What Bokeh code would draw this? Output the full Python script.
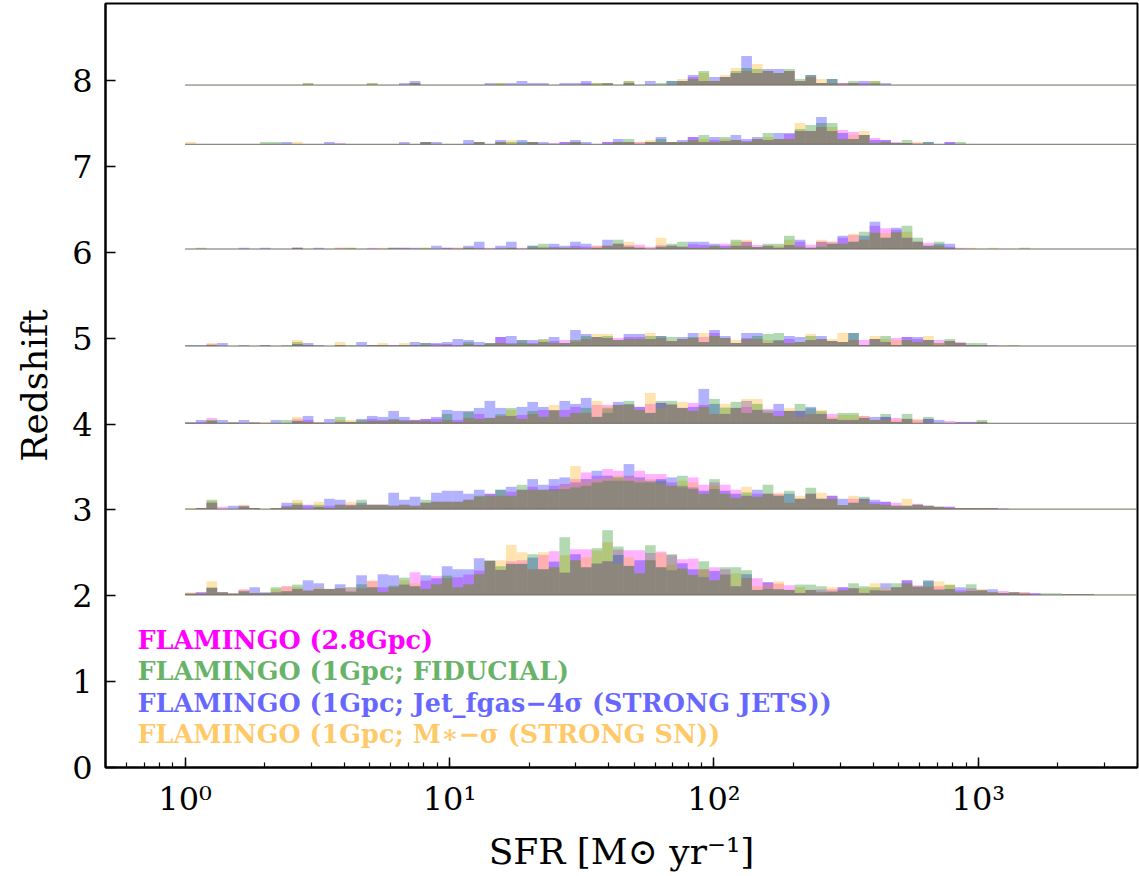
import numpy as np
from bokeh.plotting import figure
from bokeh.models import ColumnDataSource, Label, FixedTicker, CustomJSTickFormatter, Range1d
from bokeh.embed import file_html
from bokeh.resources import INLINE

# ---------------- data ----------------
N_BINS = 89
LOG_MIN, LOG_MAX = 0.0, 3.6          # histogram bins: 1 .. ~4000 Msun/yr, log-spaced
redshifts = [2.01, 3.01, 4.01, 4.91, 6.04, 7.26, 7.95]
HEIGHT_UNIT = 1.0 / 257.25           # histogram value -> redshift units

series_labels = ["FLAMINGO (2.8Gpc)",
                 "FLAMINGO (1Gpc; FIDUCIAL)",
                 "FLAMINGO (1Gpc; Jet_fgas\u22124\u03c3 (STRONG JETS))",
                 "FLAMINGO (1Gpc; M\u2217\u2212\u03c3 (STRONG SN))"]
series_colors = ["#ff00ff", "#008000", "#0000ff", "#ffa500"]
draw_order = [0, 2, 3, 1]            # magenta, blue, orange, then green on top

# z ~ 2
mag_z2 = [4,8,21,8,4,16,6,6,8,26, 18,13,18,18,20,10,20,41,23,23, 31,68,43,57,50,53,61,73,102,75,
          101,104,77,120,131,67,137,137,94,101, 136,134,134,126,130,119,107,109,77,83,
          77,26,51,50,38,34,29,6,15,16, 17,23,20,6,14,13,23,44,29,25, 26,18,14,20,14,8,12,8,8,5, 0,0,2,2,2]
grn_z2 = [4,4,23,8,4,11,6,6,23,11, 31,13,18,18,20,10,32,23,9,28, 52,26,18,32,58,23,32,62,104,86,
          93,93,122,77,83,173,104,83,140,194, 145,87,65,149,83,122,79,60,101,44,
          83,83,74,15,18,17,15,31,31,26, 10,14,35,26,23,13,35,35,25,41, 16,30,8,32,14,8,6,8,4,0, 5,5,2,2,2]
blu_z2 = [4,8,21,8,4,11,23,8,8,11, 18,44,35,18,32,23,59,23,62,59, 31,26,59,50,86,77,77,110,102,75,
          93,93,112,77,100,67,122,83,94,101, 120,87,104,104,83,74,95,77,54,72,
          61,26,62,15,38,17,15,6,15,8, 10,23,20,6,14,35,23,44,25,44, 16,18,23,12,14,17,6,8,4,5, 0,0,2,2,2]
org_z2 = [8,4,41,8,4,16,6,6,18,26, 24,13,24,18,20,23,20,44,9,23, 44,35,18,32,50,23,32,62,102,104,
          150,128,77,128,83,119,104,113,133,158, 95,113,65,104,126,91,79,60,77,44,
          61,65,51,26,31,41,15,23,15,8, 23,14,20,20,35,23,23,35,25,25, 41,32,8,12,18,8,6,8,8,0, 0,0,2,2,2]

# z ~ 3
mag_z3 = [0,3,19,7,0,10,3,0,3,10, 13,10,7,10,13,13,13,13,13,10, 13,10,19,22,22,22,28,37,46,40,
          52,58,67,58,70,75,90,110,100,120, 115,100,115,105,105,80,65,95,73,80,
          73,58,40,46,46,45,19,31,46,31, 40,12,31,31,21,22,19,10,16,10, 7,7,3,3,3,3,1]
grn_z3 = [0,3,28,0,0,7,3,0,3,7, 19,0,13,3,13,10,28,13,13,10, 13,10,28,22,22,22,28,40,40,58,
          40,73,58,58,60,60,65,70,80,85, 95,85,80,80,85,70,100,60,46,90,
          46,34,50,37,73,40,55,31,64,31, 31,12,19,37,15,13,10,10,13,10, 7,3,3,3,3,3,1]
blu_z3 = [0,3,19,0,10,10,3,0,3,19, 13,13,7,31,28,13,19,13,13,49, 28,37,19,49,55,55,46,58,46,58,
          67,58,90,73,90,95,80,90,115,100, 85,135,95,85,90,95,70,65,55,60,
          55,46,40,58,46,40,46,31,46,31, 40,31,19,31,28,22,10,10,13,10, 7,7,3,3,3,3,1]
org_z3 = [3,3,24,0,0,13,3,0,3,7, 28,0,22,3,13,22,13,13,13,10, 13,10,19,22,22,22,28,37,40,40,
          40,58,58,58,55,70,129,85,90,95, 100,95,90,90,75,70,85,80,46,70,
          46,34,67,37,46,49,19,40,46,49, 31,12,40,25,15,13,10,31,13,10, 7,3,3,3,3,3,1]

# z ~ 4
mag_z4 = [2,4,16,0,2,0,2,0,0,0, 13,10,2,0,4,4,4,13,10,10, 10,10,13,13,10,10,16,28,16,21,
          22,25,28,40,39,40,49,31,55,55, 55,55,49,58,61,56,46,61,55,28,
          28,46,49,40,43,37,37,37,28,28, 28,10,10,22,10,19,16,13,10,13, 0,7,4,4,4]
grn_z4 = [2,0,10,0,2,0,2,0,0,10, 7,4,2,0,19,4,10,7,7,13, 7,7,7,4,28,4,34,13,16,27,
          46,13,37,19,39,19,31,46,19,45, 55,67,40,31,67,67,46,37,49,73,
          47,64,31,58,39,22,37,58,45,36, 13,31,31,16,10,28,4,28,0,19, 0,0,0,0,10]
blu_z4 = [2,10,7,10,2,10,2,0,10,0, 7,22,2,13,4,4,13,22,19,37, 19,10,13,19,40,37,37,46,67,46,
          22,49,64,49,39,67,58,76,19,31, 64,58,49,31,61,56,46,49,103,58,
          28,46,67,40,31,58,37,37,49,28, 13,10,10,16,19,19,4,13,0,13, 10,0,4,4,4]
org_z4 = [2,0,10,0,2,0,2,4,0,0, 19,4,2,0,10,10,4,7,7,10, 7,7,7,4,10,4,16,13,16,21,
          40,13,28,19,55,19,31,31,67,50, 55,55,40,91,46,56,64,37,49,28,
          58,46,73,73,31,22,46,19,28,40, 19,25,25,22,10,10,10,13,13,0, 0,0,0,0,4]

# z ~ 4.9
mag_z5 = [0,0,6,0,0,0,0,0,0,0, 6,3,0,0,3,0,0,3,3,3, 3,3,3,6,6,3,6,3,6,27,
          9,9,9,12,15,18,12,21,27,24, 24,27,27,21,24,15,21,24,27,39,
          24,9,24,21,9,15,21,12,18,21, 15,12,18,18,21,12,24,27,21,18, 18,15,12,3,3,0,0,0]
grn_z5 = [0,0,3,0,0,0,0,3,0,3, 12,3,0,0,3,3,0,3,3,0, 3,3,9,0,3,0,12,3,9,9,
          6,18,6,21,9,9,18,30,27,30, 18,21,21,30,30,27,21,27,12,30,
          24,9,21,30,36,39,9,12,30,21, 15,12,39,3,21,30,3,18,12,18, 9,21,9,9,9,0,0,3]
blu_z5 = [3,3,3,9,0,3,0,3,0,0, 6,9,3,0,3,0,12,3,3,3, 3,12,9,9,12,21,18,12,9,27,
          30,18,18,12,27,9,48,36,27,24, 18,36,36,21,30,15,27,39,12,48,
          30,9,39,39,9,18,30,27,18,30, 15,12,39,3,21,12,3,27,27,18, 3,15,9,3,3,3,0,0]
org_z5 = [0,0,9,0,0,0,0,0,0,0, 18,3,0,0,12,0,0,3,9,0, 9,3,3,0,3,0,6,3,6,9,
          6,9,6,18,9,9,18,21,36,36, 18,21,21,39,24,15,21,24,39,30,
          24,18,21,21,18,15,9,12,36,21, 21,39,18,3,30,21,18,18,12,30, 9,15,9,3,3,0,3,0]

# z ~ 6
mag_z6 = [0,0,0,0,0,0,0,0,0,0, 4,0,0,0,4,0,0,4,0,0, 4,0,0,0,4,4,4,4,4,4,
          4,4,4,4,7,4,10,7,10,10, 16,12,13,7,12,10,7,14,12,10,
          16,10,22,12,10,4,12,22,13,22, 22,34,42,28,70,62,58,34,22,19, 10,7,4]
grn_z6 = [0,4,0,0,0,0,0,0,0,0, 4,0,0,0,0,4,0,0,0,4, 0,0,4,0,0,0,4,0,0,0,
          4,0,10,16,4,4,4,0,4,10, 28,7,4,0,7,16,22,4,4,10,
          4,28,10,6,16,16,40,7,4,7, 16,16,22,52,49,34,50,70,34,10, 22,4,0,0,0,0,0,0,4]
blu_z6 = [0,0,0,0,0,4,0,4,0,0, 4,0,4,0,0,0,0,0,0,4, 4,4,0,10,4,0,10,22,0,10,
          22,0,10,4,16,10,22,16,4,28, 16,7,4,0,7,10,7,22,22,16,
          10,10,22,6,10,4,12,28,4,22, 16,40,22,40,82,34,64,34,22,10, 16,16]
org_z6 = [0,0,0,0,0,0,0,0,0,0, 4,0,0,0,4,4,0,0,4,0, 0,0,4,0,0,4,4,0,0,0,
          4,0,4,7,4,4,4,0,10,10, 16,22,7,4,34,10,7,4,4,10,
          4,22,28,6,10,10,28,7,4,28, 22,16,46,28,49,48,50,52,22,10, 10,4,0,4,0,4]

# z ~ 7.3
mag_z7 = [0,0,0,0,0,0,0,0,0,0, 0,0,0,0,4,0,0,0,0,0, 0,0,7,0,0,0,0,7,0,7,
          0,0,7,0,4,7,7,0,0,7, 7,7,7,7,7,7,7,22,7,13,
          10,13,10,16,13,16,31,40,40,52, 40,43,37,28,19,13,7,4,4,0, 0,7,0]
grn_z7 = [0,0,0,0,0,0,0,7,7,0, 0,0,0,0,0,0,0,0,0,0, 0,0,7,0,0,0,0,7,0,7,
          7,7,7,0,0,0,7,0,0,0, 7,16,0,7,16,7,7,13,28,7,
          22,13,7,16,34,16,16,46,58,64, 64,16,16,28,4,7,4,13,0,7, 0,0,7]
blu_z7 = [0,0,0,0,0,0,0,0,0,7, 0,0,0,7,0,0,0,0,0,0, 7,0,7,7,0,0,13,7,0,13,
          0,13,7,7,0,7,13,7,0,7, 16,7,0,7,22,7,13,22,7,22,
          10,28,16,22,13,34,34,40,40,82, 40,34,16,28,13,13,4,4,0,7, 0,7,0]
org_z7 = [7,0,0,0,0,0,0,0,0,0, 7,0,0,0,0,0,0,0,0,0, 0,0,7,0,0,0,0,7,0,7,
          13,0,7,0,0,0,7,0,0,0, 7,7,7,13,7,7,7,13,16,7,
          16,13,7,16,22,16,16,64,40,52, 52,16,28,40,4,7,4,4,7,0, 0,0,0]

# z ~ 8
mag_z8 = [0,0,0,0,0,0,0,0,0,0, 0,0,0,0,0,0,0,0,0,0, 0,6,0,0,0,0,0,0,0,0,
          0,0,0,0,0,0,0,6,0,0, 0,6,0,0,0,0,12,24,12,12,
          24,36,42,36,42,36,42,12,24,6, 6,6,6,6,0,0]
grn_z8 = [0,0,0,0,0,0,0,0,0,0, 0,6,0,0,0,0,0,6,0,0, 0,6,0,0,0,0,0,0,0,6,
          0,0,0,0,0,0,0,0,6,6, 0,12,0,0,6,12,12,18,42,12,
          24,42,51,48,42,36,48,18,30,6, 18,0,12,0,12,0]
blu_z8 = [0,0,0,0,0,0,0,0,0,0, 0,0,0,0,0,0,0,0,0,0, 6,12,0,0,0,0,0,0,6,0,
          6,12,6,6,0,6,6,12,0,6, 0,6,0,12,0,12,12,30,12,24,
          24,36,87,36,48,48,42,12,30,6, 18,6,6,12,6,6]
org_z8 = [0,0,0,0,0,0,0,0,0,0, 0,6,0,0,0,0,0,6,0,0, 0,6,0,0,0,0,0,0,0,6,
          0,0,0,0,0,0,0,0,6,6, 0,12,0,0,0,0,18,18,36,12,
          30,51,42,63,42,36,42,12,24,18, 6,6,6,0,12,0]

series_rows = [
    [mag_z2, mag_z3, mag_z4, mag_z5, mag_z6, mag_z7, mag_z8],
    [grn_z2, grn_z3, grn_z4, grn_z5, grn_z6, grn_z7, grn_z8],
    [blu_z2, blu_z3, blu_z4, blu_z5, blu_z6, blu_z7, blu_z8],
    [org_z2, org_z3, org_z4, org_z5, org_z6, org_z7, org_z8],
]

# ---------------- figure ----------------
edges = np.logspace(LOG_MIN, LOG_MAX, N_BINS + 1)
SERIF = "DejaVu Serif"

p = figure(width=1139, height=876, x_axis_type="log",
           x_range=Range1d(0.5, 4000), y_range=Range1d(0, 8.9),
           output_backend="svg", toolbar_location=None,
           min_border_left=105, min_border_right=2, min_border_top=3, min_border_bottom=109)
p.grid.visible = False
p.background_fill_color = "white"
p.outline_line_color = "black"
p.outline_line_width = 2

for k in draw_order:
    vals_rows, color = series_rows[k], series_colors[k]
    L, R, B, T = [], [], [], []
    for z0, vals in zip(redshifts, vals_rows):
        for i, v in enumerate(vals):
            if v > 0 and i < N_BINS:
                L.append(edges[i]); R.append(edges[i + 1])
                B.append(z0); T.append(z0 + v * HEIGHT_UNIT)
    src = ColumnDataSource(dict(left=L, right=R, bottom=B, top=T))
    p.quad(left="left", right="right", bottom="bottom", top="top", source=src,
           fill_color=color, fill_alpha=0.3, line_color=None)

# baselines of each ridge
p.segment(x0=[edges[0]] * len(redshifts), x1=[edges[-1]] * len(redshifts),
          y0=redshifts, y1=redshifts, line_color="#6f6a5e", line_width=1)

# legend texts
legend_alpha = [1.0, 0.6, 0.6, 0.6]
legend_y = [1.48, 1.12, 0.75, 0.39]
for txt, col, a, yy in zip(series_labels, series_colors, legend_alpha, legend_y):
    p.add_layout(Label(x=0.66, y=yy, text=txt, text_color=col, text_alpha=a,
                       text_font=SERIF, text_font_style="bold",
                       text_font_size="25.5px", text_baseline="middle", text_align="left"))

# axes styling
for ax in (p.xaxis[0], p.yaxis[0]):
    ax.axis_line_width = 2
    ax.major_tick_in = 10
    ax.major_tick_out = 0
    ax.minor_tick_in = 5
    ax.minor_tick_out = 0
    ax.major_tick_line_width = 1.5
    ax.minor_tick_line_width = 1.2
    ax.major_label_text_font = SERIF
    ax.major_label_text_font_size = "32px"
    ax.major_label_text_color = "black"
    ax.axis_label_text_font = SERIF
    ax.axis_label_text_font_style = "normal"
    ax.axis_label_text_font_size = "36px"
    ax.axis_label_text_color = "black"

p.yaxis.ticker = FixedTicker(ticks=list(range(0, 9)), minor_ticks=[])
p.yaxis.major_label_standoff = 13
p.yaxis.axis_label_standoff = 14
p.yaxis.axis_label = "Redshift"

p.xaxis.major_label_standoff = 12
p.xaxis.axis_label_standoff = 10
p.xaxis.axis_label = "SFR [M\u2299 yr\u207b\u00b9]"
p.xaxis.formatter = CustomJSTickFormatter(code="""
const sup = {"0":"\u2070","1":"\u00b9","2":"\u00b2","3":"\u00b3","4":"\u2074","-":"\u207b"};
const e = Math.round(Math.log10(tick));
return "10" + String(e).split("").map(c => sup[c]).join("");
""")

open("out.html", "w").write(file_html(p, INLINE))
